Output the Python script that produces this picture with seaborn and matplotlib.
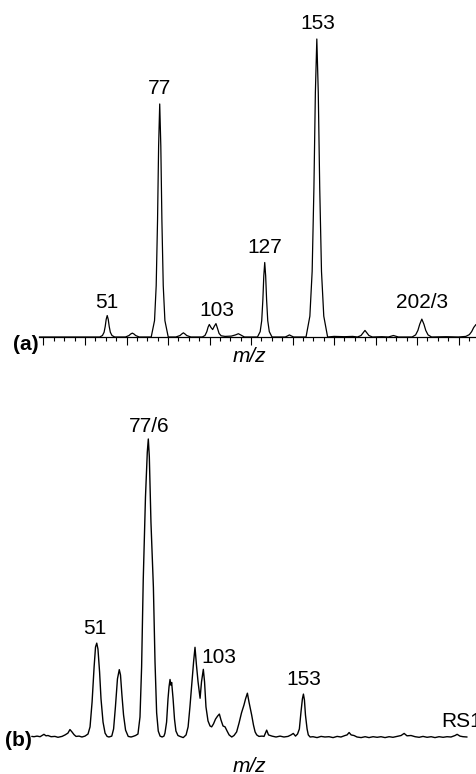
import numpy as np
import pandas as pd
import matplotlib.pyplot as plt
import seaborn as sns

sns.set_style("white")
plt.rcParams["font.family"] = ["Liberation Sans", "DejaVu Sans"]
plt.rcParams["text.color"] = "black"
plt.rcParams["xtick.color"] = "black"
plt.rcParams["axes.edgecolor"] = "black"

# ---- spectrum (a): m/z vs relative intensity (%) ----
mz_a = [18.0,
        47.1, 48.4, 49.2, 49.75, 50.2, 50.7, 51.2, 51.65, 52.2, 53.0, 54.3,
        59.5, 61.2, 62.0, 62.8, 63.6, 64.4, 66.1,
        71.9, 73.5, 74.3, 74.95, 75.47, 76.0, 76.53, 77.05, 77.7, 78.5, 80.1,
        83.8, 85.8, 86.6, 87.4, 88.2, 89.0, 91.0,
        96.5, 97.8, 98.7, 99.3, 99.9, 100.7, 101.5, 102.3, 103.1, 103.8, 104.6, 105.6, 107.5,
        110.5, 112.5, 113.9, 115.0, 116.8,
        123.1, 124.4, 125.15, 125.7, 126.15, 126.6, 127.05, 127.5, 128.05, 128.8, 130.1,
        136.5, 137.7, 138.5, 139.3, 140.5,
        146.5, 148.35, 149.45, 150.3, 151.0, 151.7, 152.4, 153.1, 153.95, 155.05, 156.9,
        160.0, 165.0, 169.0,
        171.3, 173.0, 174.0, 174.9, 175.8, 176.8, 178.5,
        183.0, 186.2, 188.6, 191.0,
        197.6, 199.3, 200.4, 201.3, 202.3, 203.3, 204.2, 205.3, 207.0,
        214.0, 220.0, 223.5, 225.2, 226.3, 227.3, 228.4]
int_a = [0,
         0, 0.5, 1.6, 3.6, 5.9, 7.2, 5.9, 3.6, 1.6, 0.5, 0,
         0, 0.5, 1.0, 1.3, 1.0, 0.5, 0,
         0, 5.5, 17.2, 39.1, 64.1, 78.2, 64.1, 39.1, 17.2, 5.5, 0,
         0, 0.5, 1.0, 1.4, 1.0, 0.5, 0,
         0, 0.5, 1.8, 3.3, 4.2, 3.2, 2.5, 3.6, 4.5, 3.0, 1.2, 0.4, 0.2,
         0.3, 0.7, 1.1, 0.7, 0,
         0, 1.8, 5.5, 12.5, 20.5, 25.0, 20.5, 12.5, 5.5, 1.8, 0,
         0, 0.4, 0.7, 0.4, 0,
         0, 7, 22, 50, 82, 100, 82, 50, 22, 7, 0,
         0.2, 0.1, 0.2,
         0, 0.5, 1.4, 2.2, 1.4, 0.5, 0,
         0.1, 0, 0.5, 0,
         0, 0.7, 2.2, 4.3, 6.0, 4.3, 2.2, 0.7, 0,
         0.1, 0, 0.2, 0.8, 1.8, 3.2, 4.2]
labels_a = ["51", "77", "103", "127", "153", "202/3"]
label_x_a = [50.6, 76.1, 103.6, 126.7, 152.3, 202.3]
label_y_a = [9.6, 81.4, 7.0, 28.1, 103.3, 9.6]

# ---- spectrum (b) ----
mz_b = [19.0, 20.1, 21.6, 23.1, 25.0, 26.0, 27.0, 28.5, 30.4, 31.9, 33.9, 35.4, 36.8,
        37.8, 38.8, 39.8, 40.8, 42.3, 43.7, 45.2,
        46.7, 47.7, 48.7, 49.7, 50.4, 51.0, 51.6, 52.4, 53.1, 54.1, 55.1, 56.1, 57.0,
        58.4, 59.3, 60.2, 61.2, 62.1, 62.7, 63.4, 64.2, 65.2, 66.5, 67.9, 68.9, 70.1,
        71.3, 72.3, 73.1, 73.9, 75.0, 75.9, 76.4, 76.9, 77.7, 78.9, 79.7, 80.5, 81.3, 82.2,
        83.2, 84.1, 84.6, 85.4, 86.1, 86.6, 87.1, 87.5, 87.9, 88.6, 89.3, 90.0, 91.0, 92.0, 93.6,
        95.0, 96.0, 96.9, 97.9, 98.7, 99.4, 100.1, 100.9, 101.9, 102.6, 103.5, 104.1, 104.8,
        105.8, 106.8, 107.6, 108.5, 109.5, 110.5, 111.4, 112.2, 113.2, 114.2, 115.2, 116.2, 117.5,
        118.6, 119.9, 121.1, 122.3, 123.5, 124.3, 125.2, 126.0, 127.3, 128.2, 129.0, 129.8,
        130.9, 132.4, 133.4, 134.7, 135.6, 137.3, 139.3, 141.3, 143.2, 145.2, 146.7, 147.8, 148.9,
        149.9, 150.8, 151.6, 152.3, 152.8, 153.3, 153.8, 154.6, 155.2, 156.1,
        157.5, 159.5, 161.5, 163.4, 165.4, 167.4, 169.4, 171.3, 173.3, 174.3, 175.3, 176.3, 177.7,
        179.2, 181.2, 183.2, 185.1, 187.1, 189.1, 191.0, 193.0, 195.0, 196.9, 198.9, 200.9,
        202.4, 203.8, 205.8, 207.8, 209.8, 211.7, 213.7, 215.7, 217.6, 219.6, 221.6, 223.5,
        225.5, 227.5, 228.5, 229.9, 231.4, 233.4]
int_b = [0.2, 0.1, 0.3, 0.1, 0.9, 0.4, 0.5, 0.1, 0.2, -0.1, 0.2, 0.7, 1.3,
         2.5, 1.7, 0.8, 0.2, 0.3, 0, 0.3,
         1.0, 3.4, 11.7, 23.5, 30.2, 31.5, 29.5, 21.8, 12.8, 5.0, 1.3, 0.2, 0,
         0.3, 2.7, 10.1, 19.5, 22.6, 20.8, 14.1, 7.4, 2.3, 0.2, 0, 0.2, 0.5,
         1.0, 6.7, 23.5, 52.7, 80.5, 95.6, 100, 94.0, 72.1, 50.3, 25.2, 8.1, 2.0, 0.3,
         0, 0.3, 1.3, 5.0, 12.8, 16.8, 19.3, 17.4, 18.3, 12.8, 6.0, 2.0, 0.5, 0.2, -0.2,
         0.7, 3.4, 10.1, 18.5, 25.2, 30.1, 24.2, 18.5, 13.0, 18.5, 22.7, 18.5, 10.1,
         5.4, 3.7, 3.4, 4.4, 6.0, 7.0, 7.7, 5.7, 3.7, 3.4, 2.0, 0.7, 0,
         0.5, 1.7, 4.7, 8.1, 10.7, 12.8, 14.7, 11.7, 7.4, 4.0, 1.7, 0.7,
         0.2, 0.3, 0.2, 2.3, 0.7, 0.3, 0, 0.3, 0, 0.2, 0.7, 1.2, 0.3,
         1.0, 2.7, 8.4, 12.8, 14.4, 12.4, 7.4, 2.7, 0.7, 0,
         0.1, -0.2, 0.2, 0, 0.1, -0.2, 0.2, 0, 0.5, 0.7, 1.5, 0.7, 0.5,
         0, -0.2, 0.1, -0.2, 0.1, -0.1, 0.1, -0.2, 0.1, -0.1, 0.2, 0.5,
         1.2, 0.4, 0.5, 0.1, -0.1, 0.2, -0.1, 0.1, -0.2, 0.1, -0.1, 0.1,
         0, 0.5, 0.9, 0.3, 0.1, 0]
labels_b = ["51", "77/6", "153"]
label_x_b = [50.0, 76.8, 153.0]
label_y_b = [34.6, 102.5, 17.4]

df_a = pd.DataFrame({"mz": mz_a, "intensity": int_a})
df_b = pd.DataFrame({"mz": mz_b, "intensity": int_b})

fig = plt.figure(figsize=(4.76, 7.74), dpi=100)
ax_a = fig.add_axes([0, 1 - 337 / 774, 1, 327.8 / 774])
ax_b = fig.add_axes([0, 1 - 737 / 774, 1, 327.8 / 774])

txt = dict(fontsize=15, ha="center", va="baseline", color="black")

# panel (a)
sns.lineplot(data=df_a, x="mz", y="intensity", ax=ax_a, color="black",
             lw=0.9, estimator=None, sort=False)
ax_a.set_xlim(-0.96, 228.4)
ax_a.set_ylim(0, 110)
for s in ["top", "right", "left"]:
    ax_a.spines[s].set_visible(False)
ax_a.spines["bottom"].set_bounds(18.0, 228.4)
ax_a.spines["bottom"].set_linewidth(0.9)
ax_a.spines["bottom"].set_color("black")
ax_a.set_xticks(np.arange(20, 221, 20))
ax_a.set_xticks(np.arange(20, 226, 5), minor=True)
ax_a.tick_params(axis="x", which="major", direction="out", length=5.5,
                 width=0.8, color="black", labelbottom=False, bottom=True)
ax_a.tick_params(axis="x", which="minor", direction="out", length=3.2,
                 width=0.8, color="black", bottom=True)
ax_a.set_yticks([])
ax_a.set_xlabel("")
ax_a.set_ylabel("")
for lab, x, y in zip(labels_a, label_x_a, label_y_a):
    ax_a.text(x, y, lab, clip_on=False, **txt)

# panel (b)
sns.lineplot(data=df_b, x="mz", y="intensity", ax=ax_b, color="black",
             lw=1.0, estimator=None, sort=False)
ax_b.lines[-1].set_clip_on(False)
ax_b.set_xlim(3.35, 237.8)
ax_b.set_ylim(0, 110)
for s in ax_b.spines.values():
    s.set_visible(False)
ax_b.set_xticks([])
ax_b.set_yticks([])
ax_b.set_xlabel("")
ax_b.set_ylabel("")
for lab, x, y in zip(labels_b, label_x_b, label_y_b):
    ax_b.text(x, y, lab, clip_on=False, **txt)
ax_b.text(102.7, 24.7, "103", fontsize=15, ha="left", va="baseline",
          color="black", clip_on=False)
ax_b.text(220.9, 3.5, "RS1", fontsize=15, ha="left", va="baseline",
          color="black", clip_on=False)

# panel letters and axis titles
fig.text(12.7 / 476, 1 - 349.5 / 774, "(a)", fontsize=15, fontweight="bold",
         ha="left", va="baseline", color="black")
fig.text(5 / 476, 1 - 745.7 / 774, "(b)", fontsize=15, fontweight="bold",
         ha="left", va="baseline", color="black")
fig.text(249 / 476, 1 - 361.7 / 774, "m/z", fontsize=15, style="italic",
         ha="center", va="baseline", color="black")
fig.text(249.3 / 476, 1 - 771.5 / 774, "m/z", fontsize=15, style="italic",
         ha="center", va="baseline", color="black")

fig.savefig("out.png", dpi=100)
